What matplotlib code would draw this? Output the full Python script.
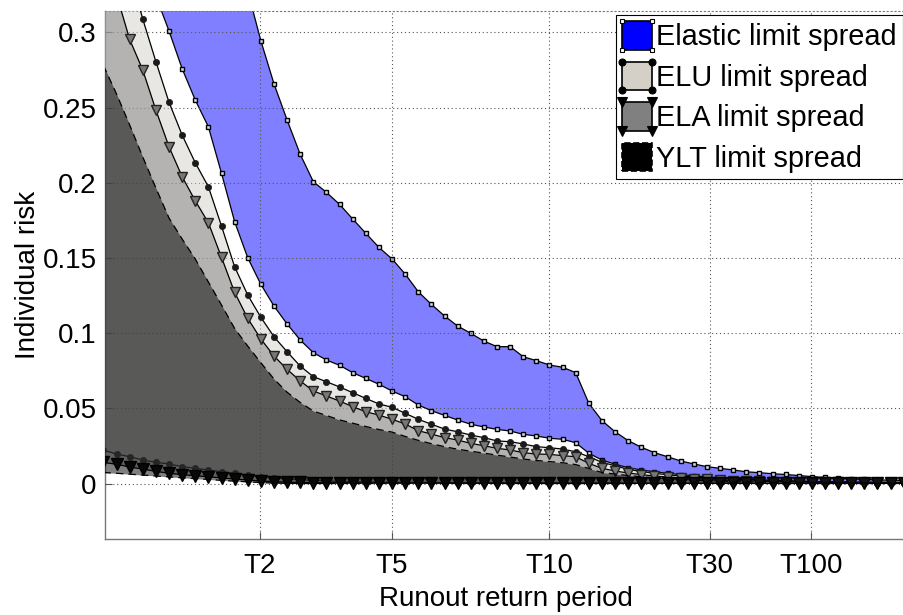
import numpy as np
import matplotlib
matplotlib.use('Agg')
import matplotlib.pyplot as plt
from matplotlib.legend_handler import HandlerBase
from matplotlib.patches import Rectangle, Patch
from matplotlib.lines import Line2D
from matplotlib.ticker import FuncFormatter

plt.rcParams['font.family'] = ['Liberation Sans', 'DejaVu Sans']
font_size = 20

# return period ticks (positions on the sample axis)
tick_labels = ['T2', 'T5', 'T10', 'T30', 'T100']
tick_pos = [11.9, 22.0, 34.0, 46.2, 53.95]

# Elastic limit spread (squares)
elastic_upper = [0.66, 0.63, 0.60, 0.57, 0.54, 0.51, 0.48, 0.45, 0.42, 0.385,
                 0.355, 0.3275, 0.2944, 0.2658, 0.2417, 0.2189, 0.2007, 0.1936, 0.1856, 0.1759,
                 0.1664, 0.1570, 0.1493, 0.1393, 0.1275, 0.1191, 0.1114, 0.1047, 0.0999, 0.0947,
                 0.0910, 0.0910, 0.0843, 0.0817, 0.0788, 0.0773, 0.0737, 0.0533, 0.0418, 0.0344,
                 0.0285, 0.0241, 0.0205, 0.0178, 0.0150, 0.0130, 0.0112, 0.0101, 0.0090, 0.0078,
                 0.0072, 0.0065, 0.0060, 0.0053, 0.0046, 0.0040, 0.0035, 0.0030, 0.0028, 0.0023,
                 0.0023, 0.0020]
elastic_lower = [0.42, 0.395, 0.37, 0.347, 0.324, 0.3009, 0.2758, 0.2550, 0.2372, 0.2063,
                 0.1741, 0.1501, 0.1324, 0.1180, 0.1061, 0.0954, 0.0870, 0.0821, 0.0786, 0.0737,
                 0.0699, 0.0660, 0.0615, 0.0577, 0.0522, 0.0484, 0.0453, 0.0422, 0.0394, 0.0376,
                 0.0360, 0.0349, 0.0327, 0.0316, 0.0301, 0.0294, 0.0271, 0.0201, 0.0156, 0.0128,
                 0.0105, 0.0090, 0.0078, 0.0068, 0.0059, 0.0051, 0.0044, 0.0038, 0.0033, 0.0029,
                 0.0025, 0.0022, 0.0019, 0.0016, 0.0014, 0.0012, 0.0011, 0.0010, 0.0009, 0.0008,
                 0.0008, 0.0007]

# ELU limit spread (circles)
elu_upper = [0.40, 0.37, 0.34, 0.3088, 0.2805, 0.2535, 0.2317, 0.2133, 0.1973, 0.1712,
             0.1441, 0.1253, 0.1105, 0.0976, 0.0876, 0.0781, 0.0710, 0.0677, 0.0642, 0.0604,
             0.0566, 0.0529, 0.0507, 0.0467, 0.0427, 0.0394, 0.0362, 0.0344, 0.0322, 0.0305,
             0.0283, 0.0278, 0.0263, 0.0245, 0.0238, 0.0229, 0.0211, 0.0178, 0.0141, 0.0118,
             0.0094, 0.0080, 0.0068, 0.0058, 0.0050, 0.0043, 0.0037, 0.0032, 0.0028, 0.0024,
             0.0021, 0.0018, 0.0016, 0.0014, 0.0012, 0.0010, 0.0009, 0.0008, 0.0007, 0.0006,
             0.0006, 0.0005]
elu_lower = [0.0222, 0.0196, 0.0178, 0.0156, 0.0141, 0.0130, 0.0112, 0.0101, 0.0090, 0.0078,
             0.0068, 0.0057, 0.0045, 0.0039, 0.0030, 0.0025, 0.0021, 0.0017, 0.0014, 0.0012,
             0.0010, 0.0009, 0.0008, 0.0008, 0.0007, 0.0007, 0.0006, 0.0006, 0.0006, 0.0005,
             0.0005, 0.0005, 0.0005, 0.0005, 0.0005, 0.0005, 0.0004, 0.0004, 0.0004, 0.0004,
             0.0004, 0.0003, 0.0003, 0.0003, 0.0003, 0.0003, 0.0003, 0.0003, 0.0002, 0.0002,
             0.0002, 0.0002, 0.0002, 0.0002, 0.0002, 0.0002, 0.0002, 0.0002, 0.0002, 0.0002,
             0.0002, 0.0002]

# ELA limit spread (triangles)
ela_upper = [0.36, 0.325, 0.2953, 0.2749, 0.2483, 0.2239, 0.2040, 0.1880, 0.1734, 0.1504,
             0.1271, 0.1098, 0.0961, 0.0848, 0.0759, 0.0682, 0.0615, 0.0582, 0.0548, 0.0511,
             0.0477, 0.0455, 0.0427, 0.0396, 0.0351, 0.0329, 0.0305, 0.0289, 0.0267, 0.0251,
             0.0234, 0.0223, 0.0205, 0.0196, 0.0194, 0.0185, 0.0178, 0.0134, 0.0101, 0.0083,
             0.0070, 0.0059, 0.0050, 0.0043, 0.0037, 0.0032, 0.0027, 0.0023, 0.0020, 0.0017,
             0.0015, 0.0013, 0.0011, 0.0010, 0.0009, 0.0008, 0.0007, 0.0006, 0.0005, 0.0005,
             0.0004, 0.0004]
ela_lower = [0.0140, 0.0128, 0.0110, 0.0096, 0.0081, 0.0068, 0.0059, 0.0052, 0.0045, 0.0037,
             0.0030, 0.0023, 0.0017, 0.0012, 0.0009, 0.0007, 0.0006, 0.0005, 0.0005, 0.0004,
             0.0004, 0.0004, 0.0003, 0.0003, 0.0003, 0.0003, 0.0002, 0.0002, 0.0002, 0.0002,
             0.0002, 0.0002, 0.0002, 0.0001, 0.0001, 0.0001, 0.0001, 0.0001, 0.0001, 0.0001,
             0.0001, 0.0001, 0.0001, 0.0001, 0.0001, 0.0001, 0.0001, 0.0001, 0.0001, 0.0001,
             0.0001, 0.0001, 0.0001, 0.0001, 0.0001, 0.0001, 0.0001, 0.0001, 0.0001, 0.0001,
             0.0001, 0.0001]

# YLT limit spread (dashed)
ylt_upper = [0.278, 0.259, 0.2384, 0.2171, 0.1965, 0.1765, 0.1626, 0.1493, 0.1340, 0.1187,
             0.1031, 0.0914, 0.0803, 0.0695, 0.0607, 0.0539, 0.0482, 0.0452, 0.0423, 0.0401,
             0.0379, 0.0359, 0.0342, 0.0313, 0.0287, 0.0265, 0.0245, 0.0228, 0.0215, 0.0202,
             0.0189, 0.0176, 0.0163, 0.0153, 0.0146, 0.0138, 0.0126, 0.0100, 0.0073, 0.0063,
             0.0053, 0.0045, 0.0038, 0.0032, 0.0027, 0.0023, 0.0019, 0.0016, 0.0013, 0.0011,
             0.0009, 0.0008, 0.0007, 0.0006, 0.0005, 0.0004, 0.0004, 0.0003, 0.0003, 0.0002,
             0.0002, 0.0002]
ylt_lower = [0.0073, 0.0068, 0.0062, 0.0056, 0.0050, 0.0044, 0.0038, 0.0032, 0.0027, 0.0021,
             0.0016, 0.0011, 0.0006, 0.0003, 0.0001, 0.0, 0.0, 0.0, 0.0, 0.0,
             0.0, 0.0, 0.0, 0.0, 0.0, 0.0, 0.0, 0.0, 0.0, 0.0,
             0.0, 0.0, 0.0, 0.0, 0.0, 0.0, 0.0, 0.0, 0.0, 0.0,
             0.0, 0.0, 0.0, 0.0, 0.0, 0.0, 0.0, 0.0, 0.0, 0.0,
             0.0, 0.0, 0.0, 0.0, 0.0, 0.0, 0.0, 0.0, 0.0, 0.0,
             0.0, 0.0]

x = np.arange(len(elastic_upper))


class CornerHandler(HandlerBase):
    def __init__(self, marker=None, mfc='k', ms=5, ls='-'):
        super().__init__()
        self.marker = marker
        self.mfc = mfc
        self.ms = ms
        self.ls = ls

    def create_artists(self, legend, orig_handle, xdescent, ydescent,
                       width, height, fontsize, trans):
        x0, y0 = -xdescent, -ydescent
        rect = Rectangle((x0, y0), width, height, facecolor=orig_handle.get_facecolor(),
                         edgecolor='k', lw=1.2, linestyle=self.ls, transform=trans)
        arts = [rect]
        if self.marker:
            ln = Line2D([x0, x0 + width, x0 + width, x0], [y0, y0, y0 + height, y0 + height],
                        ls='none', marker=self.marker, ms=self.ms, mfc=self.mfc, mec='k',
                        mew=0.8, transform=trans)
            arts.append(ln)
        return arts


fig = plt.figure(figsize=(9.04, 6.15), dpi=100)
ax = fig.add_axes([105 / 904, 76 / 615, 802 / 904, 528 / 615])

# Elastic
ax.fill_between(x, elastic_lower, elastic_upper, color='#0000ff', alpha=0.5, lw=0, zorder=1)
for yy in (elastic_upper, elastic_lower):
    ax.plot(x, yy, color='k', lw=0.9, marker='s', ms=3.5, mfc='#d8d8e8', mec='k', mew=1.0, zorder=2)

# ELU
ax.fill_between(x, elu_lower, elu_upper, color='#d4d0c8', alpha=0.5, lw=0, zorder=3)
for yy in (elu_upper, elu_lower):
    ax.plot(x, yy, color='k', lw=0.9, marker='o', ms=4.5, mfc='#1a1a1a', mec='#1a1a1a', mew=0.5, zorder=4)

# ELA
ax.fill_between(x, ela_lower, ela_upper, color='#808080', alpha=0.5, lw=0, zorder=5)
ax.plot(x, ela_upper, color='k', lw=0.9, marker='v', ms=7, mfc='#777777', mec='#222222', mew=1.0, zorder=6)
ax.plot(x, ela_lower, color='k', lw=0.9, marker='v', ms=8, mfc='#111111', mec='k', mew=1.0, zorder=6)

# YLT
ax.fill_between(x, ylt_lower, ylt_upper, color='k', alpha=0.5, lw=0, zorder=7)
for yy in (ylt_upper, ylt_lower):
    ax.plot(x, yy, color='k', lw=0.9, ls=(0, (6, 4)), zorder=8)

ax.set_xlim(0.12, 61.25)
ax.set_ylim(-0.0369, 0.3142)
ax.set_xticks(tick_pos)
ax.set_xticklabels(tick_labels, fontsize=font_size)
ax.set_yticks([0, 0.05, 0.1, 0.15, 0.2, 0.25, 0.3])
ax.yaxis.set_major_formatter(FuncFormatter(lambda v, p: '%g' % round(v, 3)))
ax.tick_params(axis='both', direction='in', length=5, width=0.8, colors='#555555',
               labelcolor='k', labelsize=font_size)
ax.tick_params(axis='x', pad=10)
ax.tick_params(axis='y', pad=6)

ax.set_axisbelow(False)
ax.grid(True, color='#555555', linestyle=(0, (1, 2.5)), linewidth=0.8, zorder=9)

for s in ('left', 'bottom'):
    ax.spines[s].set_color('#777777')
    ax.spines[s].set_linewidth(1.0)
ax.spines['left'].set_zorder(0.5)
ax.spines['top'].set_color('#777777')
ax.spines['top'].set_linestyle((0, (1, 2.5)))
ax.spines['top'].set_linewidth(0.8)
ax.spines['right'].set_visible(False)

ax.set_xlabel('Runout return period', fontsize=font_size, labelpad=5)
ax.set_ylabel('Individual risk', fontsize=font_size, labelpad=1)

h_el = Patch(facecolor='#0000ff')
h_elu = Patch(facecolor='#d4d0c8')
h_ela = Patch(facecolor='#808080')
h_ylt = Patch(facecolor='#000000')
leg = ax.legend([h_el, h_elu, h_ela, h_ylt],
                ['Elastic limit spread', 'ELU limit spread', 'ELA limit spread', 'YLT limit spread'],
                handler_map={h_el: CornerHandler('s', 'white', 3),
                             h_elu: CornerHandler('o', 'k', 5),
                             h_ela: CornerHandler('v', 'k', 6.5),
                             h_ylt: CornerHandler(None, ls='--')},
                loc='upper right', fontsize=20.8, fancybox=False, framealpha=1,
                edgecolor='k', borderaxespad=0.15, borderpad=0.2, handlelength=1.05,
                handleheight=1.15, labelspacing=0.36, handletextpad=0.15)
leg.get_frame().set_linewidth(0.8)
leg.set_zorder(20)

fig.savefig('out.png', dpi=100)
